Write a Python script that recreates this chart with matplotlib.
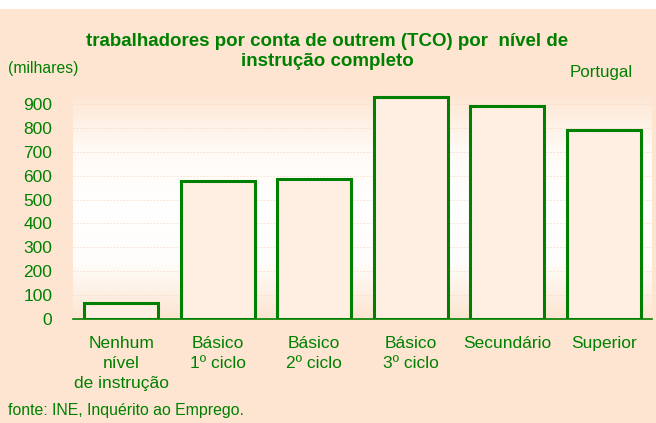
import matplotlib

matplotlib.use("Agg")
import matplotlib.pyplot as plt
import numpy as np
from matplotlib.colors import LinearSegmentedColormap
from matplotlib.patches import Rectangle

# Trabalhadores por conta de outrem por nível de instrução (milhares)
categorias = ["Nenhum\nnível\nde instrução", "Básico\n1º ciclo", "Básico\n2º ciclo",
              "Básico\n3º ciclo", "Secundário", "Superior"]
valores = [68, 576, 584, 927, 891, 793]
yticks = [0, 100, 200, 300, 400, 500, 600, 700, 800, 900]

VERDE = "#008000"
PESSEGO = "#fde5d1"
BARRA = "#feefe2"

plt.rcParams["font.family"] = ["Liberation Sans", "DejaVu Sans"]

fig = plt.figure(figsize=(6.56, 4.23), dpi=100)
fig.patch.set_facecolor(PESSEGO)
fig.patches.append(Rectangle((0, 1 - 9 / 423), 1, 9 / 423, transform=fig.transFigure,
                             facecolor="white", edgecolor="none", zorder=0))

ax = fig.add_axes([73 / 656, 1 - 319 / 423, (652 - 73) / 656, (319 - 92) / 423])
ax.set_facecolor(PESSEGO)

# fundo em degradê (pêssego -> branco -> pêssego)
grad = LinearSegmentedColormap.from_list("g", [PESSEGO, "#fffdfb", "#ffffff", "#fffaf5", PESSEGO])
ax.imshow(np.linspace(0, 1, 256).reshape(-1, 1), cmap=grad, aspect="auto",
          extent=(-0.5, 5.5, 0, 950), origin="lower", zorder=0)

x = np.arange(len(categorias))
ax.bar(x, valores, width=0.77, facecolor=BARRA, edgecolor=VERDE, linewidth=2.2, zorder=3)

for v in yticks[1:]:
    ax.axhline(v, color="#f6dccb", lw=0.6, ls=(0, (2, 2)), zorder=1)

ax.set_xlim(-0.5, 5.5)
ax.set_ylim(0, 950)
ax.set_yticks(yticks)
ax.set_xticks(x)
ax.set_xticklabels(categorias, linespacing=1.42)
ax.tick_params(axis="both", length=0, labelsize=12.5, labelcolor=VERDE)
ax.tick_params(axis="y", pad=15)
ax.tick_params(axis="x", pad=12)
for s in ["top", "right", "left"]:
    ax.spines[s].set_visible(False)
ax.spines["bottom"].set_color(VERDE)
ax.spines["bottom"].set_linewidth(1.2)
ax.spines["bottom"].set_zorder(4)

fig.text(327 / 656, 1 - 42 / 423, "trabalhadores por conta de outrem (TCO) por  nível de",
         ha="center", va="center", fontsize=13.5, fontweight="bold", color=VERDE)
fig.text(327 / 656, 1 - 62 / 423, "instrução completo",
         ha="center", va="center", fontsize=13.5, fontweight="bold", color=VERDE)
fig.text(8 / 656, 1 - 69 / 423, "(milhares)", ha="left", va="center", fontsize=11.3, color=VERDE)
fig.text(570 / 656, 1 - 72 / 423, "Portugal", ha="left", va="center", fontsize=12.2, color=VERDE)
fig.text(8 / 656, 1 - 410 / 423, "fonte: INE, Inquérito ao Emprego.", ha="left", va="center",
         fontsize=11.4, color=VERDE)

fig.savefig("out.png", dpi=100, facecolor=fig.get_facecolor())
